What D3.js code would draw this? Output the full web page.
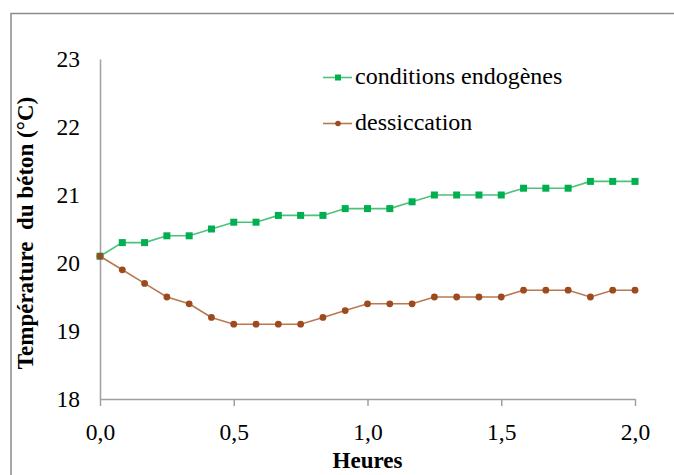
<!DOCTYPE html>
<html>
<head>
<meta charset="utf-8">
<script src="https://cdn.jsdelivr.net/npm/d3@7"></script>
<style>
  body { margin: 0; background: #fff; }
  svg text { font-family: "Liberation Serif", "Times New Roman", "DejaVu Serif", serif !important; }
</style>
</head>
<body>
<div id="chart"></div>
<script>
// time in minutes (shown in hours on the axis)
const minutes = [0, 5, 10, 15, 20, 25, 30, 35, 40, 45, 50, 55, 60,
                 65, 70, 75, 80, 85, 90, 95, 100, 105, 110, 115, 120];
const endogene = [20.1, 20.3, 20.3, 20.4, 20.4, 20.5, 20.6, 20.6, 20.7, 20.7, 20.7, 20.8, 20.8,
                  20.8, 20.9, 21.0, 21.0, 21.0, 21.0, 21.1, 21.1, 21.1, 21.2, 21.2, 21.2];
const dessiccation = [20.1, 19.9, 19.7, 19.5, 19.4, 19.2, 19.1, 19.1, 19.1, 19.1, 19.2, 19.3, 19.4,
                      19.4, 19.4, 19.5, 19.5, 19.5, 19.5, 19.6, 19.6, 19.6, 19.5, 19.6, 19.6];
const xTicks = [0, 0.5, 1, 1.5, 2];
const yTicks = [18, 19, 20, 21, 22, 23];
const seriesNames = ["conditions endogènes", "dessiccation"];

const width = 674, height = 475;
const margin = {top: 59, right: 39, bottom: 76, left: 100};
const serif = "'Liberation Serif', 'Times New Roman', serif";

const svg = d3.select("#chart").append("svg")
  .attr("width", width)
  .attr("height", height)
  .attr("font-family", serif);

// outer frame
svg.append("rect")
  .attr("x", 11).attr("y", 13.5)
  .attr("width", 700).attr("height", 500)
  .attr("fill", "none")
  .attr("stroke", "#8c8c8c")
  .attr("stroke-width", 1.5);

const x = d3.scaleLinear().domain([0, 2]).range([margin.left, width - margin.right]);
const y = d3.scaleLinear().domain([18, 23]).range([height - margin.bottom, margin.top]);

// axes
const gx = svg.append("g")
  .attr("transform", "translate(0," + y(18) + ")")
  .call(d3.axisBottom(x).tickValues(xTicks).tickSize(7).tickSizeOuter(0).tickPadding(17)
    .tickFormat(d => d3.format(".1f")(d).replace(".", ",")));
gx.attr("font-family", serif).attr("font-size", 23.5);
gx.select(".domain").attr("stroke", "#a0a0a0").attr("stroke-width", 1.5);
gx.selectAll(".tick line").attr("stroke", "#a0a0a0").attr("stroke-width", 1.5);
gx.selectAll("text").attr("fill", "#000");

const gy = svg.append("g")
  .attr("transform", "translate(" + x(0) + ",0)")
  .call(d3.axisLeft(y).tickValues(yTicks).tickSize(0).tickPadding(20)
    .tickFormat(d3.format("d")));
gy.attr("font-family", serif).attr("font-size", 23.5);
gy.select(".domain").attr("stroke", "#a0a0a0").attr("stroke-width", 1.5);
gy.selectAll("text").attr("fill", "#000");

// axis titles
svg.append("text")
  .attr("x", x(1)).attr("y", 468)
  .attr("text-anchor", "middle")
  .attr("font-size", 23).attr("font-weight", "bold")
  .text("Heures");

svg.append("text")
  .attr("transform", "translate(33,233) rotate(-90)")
  .attr("text-anchor", "middle")
  .attr("font-size", 23).attr("font-weight", "bold")
  .style("white-space", "pre")
  .text("Température  du béton (°C)");

// series
const series = [
  {name: seriesNames[0], values: endogene, line: "#4cc27a", mark: "#00b050", shape: "square"},
  {name: seriesNames[1], values: dessiccation, line: "#b87950", mark: "#9c4a1e", shape: "circle"}
];

const line = d3.line()
  .x((d, i) => x(minutes[i] / 60))
  .y(d => y(d));

series.forEach(function (s) {
  svg.append("path")
    .datum(s.values)
    .attr("fill", "none")
    .attr("stroke", s.line)
    .attr("stroke-width", 1.6)
    .attr("d", line);

  const g = svg.append("g");
  if (s.shape === "square") {
    g.selectAll("rect").data(s.values).enter().append("rect")
      .attr("x", (d, i) => x(minutes[i] / 60) - 3.5)
      .attr("y", d => y(d) - 3.5)
      .attr("width", 7).attr("height", 7)
      .attr("fill", s.mark);
  } else {
    g.selectAll("circle").data(s.values).enter().append("circle")
      .attr("cx", (d, i) => x(minutes[i] / 60))
      .attr("cy", d => y(d))
      .attr("r", 3.4)
      .attr("fill", s.mark);
  }
});

// legend
const legend = svg.append("g");
series.forEach(function (s, i) {
  const ly = 77.5 + i * 46;
  legend.append("line")
    .attr("x1", 323).attr("x2", 352)
    .attr("y1", ly).attr("y2", ly)
    .attr("stroke", s.line).attr("stroke-width", 1.6);
  if (s.shape === "square") {
    legend.append("rect")
      .attr("x", 335).attr("y", ly - 3)
      .attr("width", 6).attr("height", 6)
      .attr("fill", s.mark);
  } else {
    legend.append("circle")
      .attr("cx", 338).attr("cy", ly).attr("r", 2.8)
      .attr("fill", s.mark);
  }
  legend.append("text")
    .attr("x", 355).attr("y", ly + 6.5)
    .attr("font-size", 24)
    .text(s.name);
});
</script>
</body>
</html>
